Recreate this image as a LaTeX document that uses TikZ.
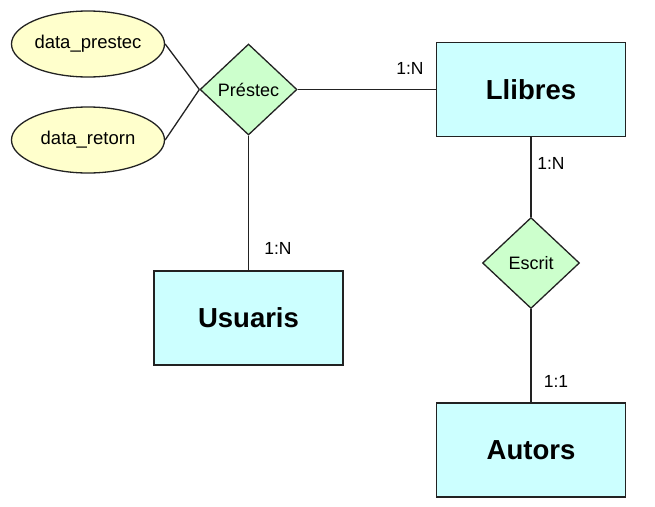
\documentclass[tikz,border=0pt]{standalone}
\usepackage{fontspec}
\setmainfont{Liberation Sans}
\usetikzlibrary{shapes.geometric}
\definecolor{entfill}{HTML}{CCFFFF}
\definecolor{relfill}{HTML}{CCFFCC}
\definecolor{attfill}{HTML}{FFFFCC}
\definecolor{edge}{HTML}{222222}
\tikzset{
  entity/.style={draw=edge, fill=entfill, line width=1.3pt, rectangle, minimum width=189pt, minimum height=94pt, inner sep=0pt, font=\fontsize{27.5}{30}\selectfont\bfseries},
  relation/.style={draw=edge, fill=relfill, line width=1.3pt, diamond, minimum width=97pt, minimum height=91pt, inner sep=0pt, font=\fontsize{18}{20}\selectfont},
  attribute/.style={draw=edge, fill=attfill, line width=1.3pt, ellipse, minimum width=153pt, minimum height=66pt, inner sep=0pt, font=\fontsize{18.5}{20}\selectfont},
  card/.style={inner sep=0pt, font=\fontsize{17.5}{19}\selectfont},
  conn/.style={draw=edge, line width=1.3pt}
}
\begin{document}
\begin{tikzpicture}[x=1pt,y=-1pt]
\useasboundingbox (0,0) rectangle (655,506);
\node[entity] (llibres) at (531,89.5) {Llibres};
\node[entity] (usuaris) at (248.5,318) {Usuaris};
\node[entity] (autors) at (531,450) {Autors};
\node[relation] (prestec) at (248.5,89.5) {Préstec};
\node[relation] (escrit) at (531,263) {Escrit};
\node[attribute] (dp) at (88,44) {data\_prestec};
\node[attribute] (dr) at (88,140) {data\_retorn};
\draw[conn] (prestec.east) -- (llibres.west);
\draw[conn] (prestec.south) -- (usuaris.north);
\draw[conn] (llibres.south) -- (escrit.north);
\draw[conn] (escrit.south) -- (autors.north);
\draw[conn] (dp.east) -- (prestec.west);
\draw[conn] (dr.east) -- (prestec.west);
\node[card] (c1) at (410,68) {1:N};
\node[card] (c2) at (551,163) {1:N};
\node[card] (c3) at (278,248) {1:N};
\node[card] (c4) at (556,381) {1:1};
\end{tikzpicture}
\end{document}
